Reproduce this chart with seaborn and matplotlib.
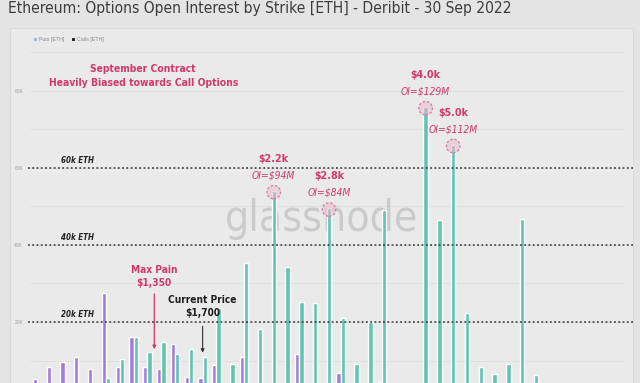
import numpy as np
import pandas as pd
import matplotlib
matplotlib.use("Agg")
import matplotlib.pyplot as plt
import matplotlib.font_manager as fm
from matplotlib.patches import Rectangle, Patch
import seaborn as sns

# ---------------- data ----------------
strikes = [500, 600, 700, 800, 900, 1000, 1100, 1200, 1300, 1400, 1500, 1600,
           1700, 1800, 1900, 2000, 2100, 2200, 2400, 2500, 2600, 2800, 3000,
           3200, 3400, 3500, 3600, 3800, 4000, 4500, 5000, 5500, 6000, 6500,
           7000, 8000, 9000, 10000, 12000, 15000, 20000, 25000, 30000]
puts_eth = [5300, 8200, 9500, 11000, 7900, 27400, 8200, 16000, 8400, 7900,
            14200, 5800, 5500, 8900, 3000, 11000, 3000, 2000, 2000, 11800,
            2000, 3000, 6800, 2000, 2000, 4500, 1000, 1000, 1500, 1000, 1000,
            800, 800, 500, 500, 500, 500, 300, 300, 300, 200, 200, 200]
calls_eth = [1000, 1500, 2000, 2000, 3000, 5500, 10500, 16000, 12100, 14700,
             11600, 12900, 10800, 23700, 9200, 35300, 18200, 54000, 34200,
             25300, 25000, 49500, 21000, 9200, 20000, 49000, 2000, 3000,
             75800, 46600, 66000, 22400, 8400, 6600, 9200, 46800, 6300, 3000,
             2000, 2000, 1500, 1000, 1000]
series_names = ["Puts [ETH]", "Calls [ETH]"]
ref_levels = [60000, 40000, 20000]
ref_labels = ["60k ETH", "40k ETH", "20k ETH"]
ytick_vals = [20000, 40000, 60000, 80000]
ytick_labels = ["20K", "40K", "60K", "80K"]
peaks = [(2200, "$2.2k", "OI=$94M"), (2800, "$2.8k", "OI=$84M"),
         (4000, "$4.0k", "OI=$129M"), (5000, "$5.0k", "OI=$112M")]
max_pain = 1350
current_price = 1700

df = pd.DataFrame({
    "strike": [str(s) for s in strikes] * 2,
    "type": [series_names[0]] * len(strikes) + [series_names[1]] * len(strikes),
    "oi": puts_eth + calls_eth,
})

# ---------------- fonts ----------------
avail = {f.name for f in fm.fontManager.ttflist}
if "Liberation Sans Narrow" in avail:
    NF = dict(family="Liberation Sans Narrow")
elif any(f.name == "DejaVu Sans" and f.stretch == "condensed" for f in fm.fontManager.ttflist):
    NF = dict(family="DejaVu Sans", stretch="condensed")
else:
    NF = dict(family="Liberation Sans")

sns.set_theme(style="white")
plt.rcParams["font.family"] = ["Liberation Sans", "DejaVu Sans"]

W, H = 640, 383
fig = plt.figure(figsize=(W / 100, H / 100), dpi=100, facecolor="#e4e4e4")

def fx(px):
    return px / W

def fy(py):
    return 1 - py / H

# panel (behind the axes)
fig.patches.append(Rectangle((fx(10), fy(390)), fx(623), fy(28) - fy(390),
                             transform=fig.transFigure, facecolor="#eaeaea",
                             edgecolor="#d9d9d9", lw=0.8, zorder=-5))

ax = fig.add_axes([fx(30), 0, fx(595), 1 - 30 / H])
ax.set_facecolor("none")
ax.set_zorder(2)

PURPLE = "#a27bdb"
TEAL = "#62c3b1"
CRIMSON = "#d2396b"

sns.barplot(data=df, x="strike", y="oi", hue="type", hue_order=series_names,
            palette=[PURPLE, TEAL], width=0.62, gap=0.0, legend=False,
            saturation=1, ax=ax, zorder=3)

ax.set_xlim(-0.507, 42.6)
ax.set_ylim(4160, 95800)
ax.set_xlabel("")
ax.set_ylabel("")
ax.set_xticks([])
ax.set_yticks(ytick_vals)
ax.set_yticklabels(ytick_labels, fontsize=3.5, color="#a0a0a0")
ax.tick_params(axis="y", length=0, pad=5)
ax.set_yticks(np.arange(10000, 95000, 10000), minor=True)
ax.tick_params(axis="y", which="minor", length=0)
ax.grid(which="both", axis="y", color="#dddddd", lw=0.6, zorder=0)
ax.set_axisbelow(True)
for s in ax.spines.values():
    s.set_visible(False)

# dotted reference lines
for lvl, lab in zip(ref_levels, ref_labels):
    ax.axhline(lvl, xmin=-0.004, xmax=1.013, color="#333333", lw=1.1,
               ls=(0, (1.2, 1.6)), clip_on=False, zorder=4)
    ax.text(2.95, lvl + 2000, lab, fontsize=5.8, fontweight="bold",
            fontstyle="italic", color="#222222", ha="center", va="center", **NF)

# legend
handles = [Patch(facecolor="#9fb4e6", edgecolor="none"),
           Patch(facecolor="#2b2b2b", edgecolor="none")]
leg = ax.legend(handles, series_names, loc="center left",
                bbox_to_anchor=(0.003, 0.972), borderaxespad=0, ncol=2,
                frameon=False, fontsize=3.8, handlelength=0.5,
                handleheight=0.6, handletextpad=0.4, columnspacing=1.6)
for t in leg.get_texts():
    t.set_color("#888888")

# watermark
ax.text(13.6, 43700, "glassnode", fontsize=30.5, color="#c6c6c6", alpha=0.85,
        ha="left", va="baseline", zorder=2, **NF)

# title (cropped at top)
fig.text(fx(8), fy(13.5), "Ethereum: Options Open Interest by Strike [ETH] - Deribit - 30 Sep 2022",
         fontsize=11.2, color="#3d3d3d", ha="left", va="baseline", **NF)

# headline annotation
ax.text(7.7, 83800, "September Contract\nHeavily Biased towards Call Options",
        fontsize=7.4, fontweight="bold", color=CRIMSON, ha="center",
        va="center", linespacing=1.5, **NF)

# peak callouts
pos = {s: i for i, s in enumerate(strikes)}
for s, lab1, lab2 in peaks:
    i = pos[s]
    v = calls_eth[i]
    xi = i + 0.155
    ax.scatter([xi], [v - 300], s=95, facecolors="#e9b9cc", alpha=0.55,
               edgecolors="none", zorder=5)
    ax.scatter([xi], [v - 300], s=95, facecolors="none", edgecolors="#d77a9f",
               linewidths=0.9, linestyle=(0, (2, 1.5)), zorder=6)
    ax.text(xi, v + 4000, lab2, fontsize=7.4, fontstyle="italic",
            color=CRIMSON, ha="center", va="center", **NF)
    ax.text(xi, v + 8300, lab1, fontsize=7.7, fontweight="bold",
            color=CRIMSON, ha="center", va="center", **NF)

# max pain
mp_x = pos[1300] + (max_pain - 1300) / 100
ax.text(mp_x, 31800, "Max Pain\n$1,350", fontsize=7.3, fontweight="bold",
        color=CRIMSON, ha="center", va="center", linespacing=1.45, **NF)
ax.annotate("", xy=(mp_x, 12200), xytext=(mp_x, 28000),
            arrowprops=dict(arrowstyle="-|>", color=CRIMSON, lw=0.9,
                            mutation_scale=5), zorder=6)

# current price
cp_x = pos[current_price]
ax.text(cp_x, 24000, "Current Price\n$1,700", fontsize=7.3, fontweight="bold",
        color="#1e1e1e", ha="center", va="center", linespacing=1.45, **NF)
ax.annotate("", xy=(cp_x, 11300), xytext=(cp_x, 19600),
            arrowprops=dict(arrowstyle="-|>", color="#333333", lw=0.8,
                            mutation_scale=5), zorder=6)

fig.savefig("out.png", dpi=100, facecolor=fig.get_facecolor())
